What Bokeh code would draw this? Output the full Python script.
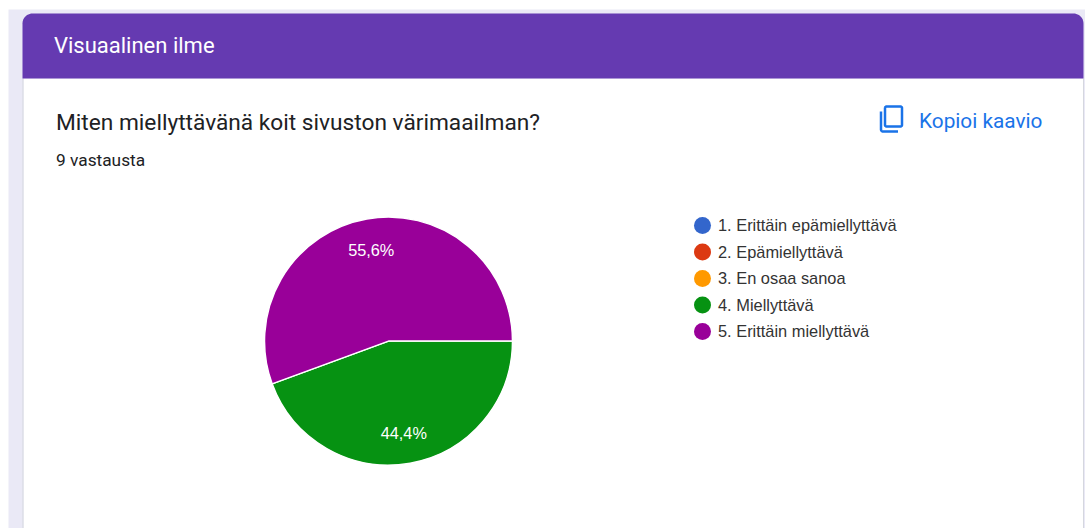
import numpy as np
from bokeh.embed import file_html
from bokeh.models import ColumnDataSource
from bokeh.plotting import figure
from bokeh.resources import INLINE
from bokeh.core.properties import value

W, H = 1085, 528

# Survey answers
section_title = "Visuaalinen ilme"
question = "Miten miellyttävänä koit sivuston värimaailman?"
response_count = "9 vastausta"
copy_label = "Kopioi kaavio"
categories = ["1. Erittäin epämiellyttävä", "2. Epämiellyttävä", "3. En osaa sanoa",
              "4. Miellyttävä", "5. Erittäin miellyttävä"]
shares = [0.0, 0.0, 0.0, 44.4, 55.6]
palette = ["#3366cc", "#dc3912", "#ff9900", "#069212", "#990099"]


def sy(y):
    """Convert a top-down pixel row to the upward y axis."""
    return H - np.asarray(y, dtype=float)


def rounded_top(x0, x1, y0, y1, r):
    t = np.linspace(0, np.pi / 2, 12)
    xs = np.concatenate([[x0], x0 + r - r * np.cos(t), x1 - r + r * np.sin(t), [x1]])
    ys = np.concatenate([[y1], y0 + r - r * np.sin(t), y0 + r - r * np.cos(t), [y1]])
    return xs, sy(ys)


p = figure(width=W, height=H, x_range=(0, W), y_range=(0, H), output_backend="svg",
           toolbar_location=None, min_border=0, background_fill_color="white",
           outline_line_color=None)
p.axis.visible = False
p.grid.visible = False

# Page background and card
p.quad(left=8, right=W, top=sy(9), bottom=0, fill_color="#eae9f6", line_color=None)
p.quad(left=23, right=1083, top=sy(78), bottom=0, fill_color="white", line_color=None)
p.segment(x0=[22.5, 1083], y0=sy([78, 78]), x1=[22.5, 1083], y1=[0, 0],
          line_color="#d5d7df", line_width=1)
hx, hy = rounded_top(22, 1083, 13, 78, 10)
p.patch(hx, hy, fill_color="#653ab1", line_color=None)


def label(x, y, text, size, color, font="Roboto", align="left", **kw):
    p.text(x=[x], y=sy([y]), text=[text], text_font=value(font), text_font_size=size,
           text_color=color, text_align=align, text_baseline="middle", **kw)


label(53.5, 44.5, section_title, "22px", "white")
label(55.5, 122, question, "22.7px", "#202124")
label(55.5, 159, response_count, "17.3px", "#202124")
label(918.5, 120, copy_label, "20.8px", "#1a73e8")

# Copy icon: a rounded sheet with a second sheet's corner behind it
t = np.linspace(0, np.pi / 2, 6)
r = 1.5
fx = np.concatenate([884.5 + r * (1 - np.cos(t)), 901.5 - r * (1 - np.sin(t)),
                     901.5 - r * (1 - np.cos(t)), 884.5 + r * (1 - np.sin(t)), [884.5]])
fy = np.concatenate([106 + r * (1 - np.sin(t)), 106 + r * (1 - np.cos(t)),
                     126 - r * (1 - np.sin(t)), 126 - r * (1 - np.cos(t)), [107.5]])
p.line(fx, sy(fy), line_color="#1a73e8", line_width=2.5)
bx = np.concatenate([[880.5], 880.5 + 2 * (1 - np.cos(t)), [897.5]])
by = np.concatenate([[111], 131 - 2 * (1 - np.sin(t)), [131]])
p.line(bx, sy(by), line_color="#1a73e8", line_width=2.5)

# Pie: slices run clockwise from the east, empty categories vanish
cx, cy, radius = 388, 340.6, 124
fractions = np.array(shares) / sum(shares)
ends = np.cumsum(np.concatenate([[0], fractions[3:]]))
start_angle = -ends[:-1] * 2 * np.pi
end_angle = -ends[1:] * 2 * np.pi
pie = ColumnDataSource(dict(start=end_angle, end=start_angle, color=palette[3:],
                            x=[cx, cx], y=sy([cy, cy])))
p.wedge(x="x", y="y", radius=radius, start_angle="start", end_angle="end", fill_color="color",
        line_color="white", line_width=1.5, source=pie)

mid = (start_angle + end_angle) / 2
lx = cx - 1 + 93 * np.cos(mid)
ly = sy(cy) + 93 * np.sin(mid)
for x, y, s in zip(lx, ly, shares[3:]):
    p.text(x=[x], y=[y], text=[f"{s:.1f}%".replace(".", ",")], text_font=value("Liberation Sans"),
           text_font_size="16.3px", text_color="white", text_align="center", text_baseline="middle")

# Legend
rows = [225, 251.5, 278, 304.5, 331]
p.scatter(x=[702] * 5, y=sy(rows), size=17, marker="circle", fill_color=palette, line_color=None)
for row, name in zip(rows, categories):
    label(717.5, row - 0.5, name, "16.4px", "#333333", font="Liberation Sans")

open("out.html", "w").write(file_html(p, INLINE))
